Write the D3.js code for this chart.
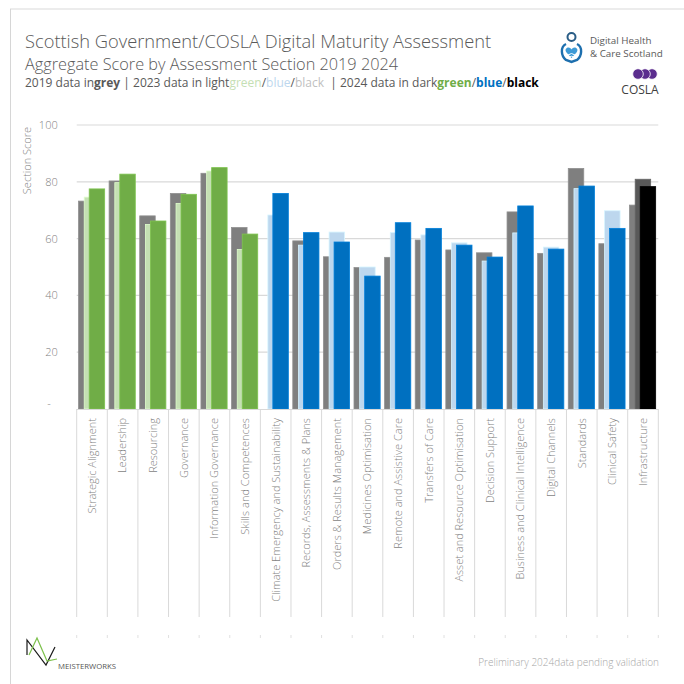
<!DOCTYPE html>
<html>
<head>
<meta charset="utf-8">
<script src="https://cdn.jsdelivr.net/npm/d3@7"></script>
<style>
  html, body { margin: 0; padding: 0; background: #ffffff; }
  svg { display: block; font-family: "Open Sans", "Noto Sans", sans-serif; }
</style>
</head>
<body>
<svg id="chart" width="684" height="684"></svg>
<script>
// Assessment sections, in the order they are reported
const categories = [
  "Strategic Alignment", "Leadership", "Resourcing", "Governance",
  "Information Governance", "Skills and Competences",
  "Climate Emergency and Sustainability", "Records, Assessments & Plans",
  "Orders & Results Management", "Medicines Optimisation",
  "Remote and Assistive Care", "Transfers of Care",
  "Asset and Resource Optimisation", "Decision Support",
  "Business and Clinical Intelligence", "Digital Channels", "Standards",
  "Clinical Safety", "Infrastructure"
];

// Which family each section belongs to (drives the colour scheme)
const sectionGroup = [
  "green", "green", "green", "green", "green", "green",
  "blue", "blue", "blue", "blue", "blue", "blue",
  "blue", "blue", "blue", "blue", "blue", "blue",
  "black"
];

// Aggregate section scores per assessment year (null = section not assessed)
const scores2019 = [73.2, 80.3, 68.0, 75.9, 83.0, 63.9, null, 59.2, 53.6, 49.8,
                    53.4, 59.5, 56.0, 55.0, 69.4, 54.8, 84.7, 58.2, 71.8];
const scores2023 = [74.6, 79.7, 65.0, 72.4, 83.8, 56.2, 68.3, 57.7, 62.3, 50.0,
                    62.1, 61.3, 58.5, 52.1, 62.0, 57.0, 77.6, 69.8, 80.9];
const scores2024 = [77.5, 82.7, 66.2, 75.6, 85.0, 61.6, 75.9, 62.1, 58.8, 46.8,
                    65.6, 63.6, 57.7, 53.5, 71.5, 56.3, 78.5, 63.6, 78.3];

const yTicks = [0, 20, 40, 60, 80, 100];

// ---- styling ----
const palette = {
  grey: "#7f7f7f",
  light: { green: "#c5e0b4", blue: "#bdd7ee", black: "#595959" },
  dark:  { green: "#70ad47", blue: "#0070c0", black: "#000000" }
};
const textGrey = "#7f7f7f";
const gridGrey = "#d9d9d9";

const svg = d3.select("#chart");

// page frame
svg.append("line").attr("x1", 10).attr("x2", 684).attr("y1", 9).attr("y2", 9)
  .attr("stroke", "#ececec").attr("stroke-width", 2);
svg.append("line").attr("x1", 10.5).attr("x2", 10.5).attr("y1", 9).attr("y2", 684)
  .attr("stroke", "#d6d6d6").attr("stroke-width", 1);

// ---- titles ----
svg.append("text").attr("x", 25).attr("y", 48)
  .attr("font-size", 18.3).attr("font-weight", 300).attr("fill", "#595959")
  .text("Scottish Government/COSLA Digital Maturity Assessment");
svg.append("text").attr("x", 25).attr("y", 70)
  .attr("font-size", 16.3).attr("font-weight", 300).attr("fill", "#595959")
  .text("Aggregate Score by Assessment Section 2019 2024");

const legendLine = svg.append("text").attr("x", 25).attr("y", 87)
  .attr("font-size", 12).attr("fill", "#595959");
[
  ["2019 data in", "#595959", 400],
  ["grey", "#595959", 700],
  [" | 2023 data in light", "#595959", 400],
  ["green", palette.light.green, 400],
  ["/", "#595959", 400],
  ["blue", palette.light.blue, 400],
  ["/", "#595959", 400],
  ["black", "#bfbfbf", 400],
  ["  | 2024 data in dark", "#595959", 400],
  ["green", palette.dark.green, 700],
  ["/", "#595959", 400],
  ["blue", palette.dark.blue, 700],
  ["/", "#595959", 400],
  ["black", palette.dark.black, 700]
].forEach(([t, c, w]) => {
  legendLine.append("tspan").attr("fill", c).attr("font-weight", w)
    .attr("xml:space", "preserve").text(t);
});

// ---- logos ----
const dhcs = svg.append("g");
dhcs.append("circle").attr("cx", 571.5).attr("cy", 37).attr("r", 4)
  .attr("fill", "none").attr("stroke", "#2a5d86").attr("stroke-width", 2);
dhcs.append("path")
  .attr("d", "M566,44 C560,47 561,56 566,60 L571.5,62 L577,60 C582,56 583,47 577,44")
  .attr("fill", "none").attr("stroke", "#1d6fae").attr("stroke-width", 2.4);
dhcs.append("path")
  .attr("d", "M571.5,58 L566.5,52.5 C564.5,50 566,47.5 568.5,47.5 C570,47.5 571,48.5 571.5,49.5 C572,48.5 573,47.5 574.5,47.5 C577,47.5 578.5,50 576.5,52.5 Z")
  .attr("fill", "#3d9ad6");
dhcs.append("path").attr("d", "M568,55 Q571.5,52 575,55 M569.5,57 Q571.5,55.5 573.5,57")
  .attr("fill", "none").attr("stroke", "#ffffff").attr("stroke-width", 1);
const dhcsName = dhcs.append("text").attr("font-size", 9.8).attr("fill", "#595959");
dhcsName.append("tspan").attr("x", 590).attr("y", 44).text("Digital Health");
dhcsName.append("tspan").attr("x", 590).attr("y", 57).text("& Care Scotland");

const cosla = svg.append("g");
[652, 645, 638].forEach(cx => {
  cosla.append("circle").attr("cx", cx).attr("cy", 74).attr("r", 5.3)
    .attr("fill", "#5b2d8e").attr("stroke", "#ffffff").attr("stroke-width", 0.8);
});
cosla.append("text").attr("x", 640).attr("y", 94).attr("text-anchor", "middle")
  .attr("font-size", 12).attr("fill", "#404040").text("COSLA");

// ---- scales ----
const plotLeft = 76.7, plotRight = 658.3, plotTop = 125, plotBottom = 409;
const x = d3.scaleBand().domain(categories).range([plotLeft, plotRight]).padding(0);
const y = d3.scaleLinear().domain([0, 100]).range([plotBottom, plotTop]);
const bw = x.bandwidth();

// gridlines
svg.append("g").selectAll("line").data(yTicks.filter(v => v > 0)).join("line")
  .attr("x1", plotLeft).attr("x2", plotRight)
  .attr("y1", d => y(d)).attr("y2", d => y(d))
  .attr("stroke", gridGrey).attr("stroke-width", 1.2);

// y axis labels
const yAxis = svg.append("g").attr("transform", `translate(${plotLeft - 16},0)`)
  .call(d3.axisLeft(y).tickValues(yTicks).tickSize(0)
    .tickFormat(d => d === 0 ? "-" : d3.format("d")(d)));
yAxis.select(".domain").remove();
yAxis.selectAll("text").attr("font-size", 11).attr("fill", textGrey)
  .attr("font-family", "Open Sans, sans-serif").attr("font-weight", 300)
  .attr("dx", d => d === 0 ? -7 : 0).attr("dy", d => d === 0 ? "-0.1em" : "0.32em");

svg.append("text")
  .attr("transform", `translate(31,${(y(100) + y(75)) / 2}) rotate(-90)`)
  .attr("text-anchor", "middle").attr("font-size", 11).attr("font-weight", 300)
  .attr("fill", textGrey)
  .text("Section Score");

// ---- bars: 2019 behind, 2023 in the middle, 2024 in front ----
const seriesDefs = [
  { values: scores2019, offset: 0.059, color: () => palette.grey },
  { values: scores2023, offset: 0.245, color: g => palette.light[g] },
  { values: scores2024, offset: 0.408, color: g => palette.dark[g] }
];
const barW = bw * 0.506;

seriesDefs.forEach(s => {
  const rows = categories.map((c, i) => ({ c, v: s.values[i], g: sectionGroup[i] }))
    .filter(d => d.v != null);
  svg.append("g").selectAll("rect").data(rows).join("rect")
    .attr("x", d => x(d.c) + bw * s.offset)
    .attr("y", d => y(d.v))
    .attr("width", barW)
    .attr("height", d => y(0) - y(d.v))
    .attr("fill", d => s.color(d.g))
    .attr("stroke", d => d3.color(s.color(d.g)).brighter(0.35))
    .attr("stroke-width", 0.8);
});

// ---- category axis ----
const bounds = categories.map(c => x(c)).concat([plotRight]);
svg.append("line").attr("x1", plotLeft).attr("x2", plotRight)
  .attr("y1", plotBottom + 0.5).attr("y2", plotBottom + 0.5)
  .attr("stroke", gridGrey).attr("stroke-width", 1);
svg.append("g").selectAll("line").data(bounds).join("line")
  .attr("x1", d => d).attr("x2", d => d)
  .attr("y1", plotBottom).attr("y2", 617)
  .attr("stroke", gridGrey).attr("stroke-width", 1);
svg.append("g").selectAll("line").data(bounds).join("line")
  .attr("x1", d => d).attr("x2", d => d)
  .attr("y1", 635).attr("y2", 638)
  .attr("stroke", "#e0e0e0").attr("stroke-width", 1);

svg.append("g").selectAll("text").data(categories).join("text")
  .attr("transform", d => `translate(${x(d) + bw / 2},418) rotate(-90)`)
  .attr("text-anchor", "end").attr("dy", "0.35em")
  .attr("font-size", 11).attr("font-weight", 300).attr("fill", textGrey)
  .text(d => d);

// ---- footer ----
const mw = svg.append("g");
mw.append("polyline").attr("points", "27,655 27,640 46,665 55,647")
  .attr("fill", "none").attr("stroke", "#1a1a1a").attr("stroke-width", 1.2);
mw.append("polyline").attr("points", "29,655 37,638 47,661 57,659")
  .attr("fill", "none").attr("stroke", "#7cc04b").attr("stroke-width", 1.2);
mw.append("text").attr("x", 58).attr("y", 669).attr("font-size", 8)
  .attr("textLength", 58).attr("lengthAdjust", "spacingAndGlyphs")
  .attr("fill", "#555555").text("MEISTERWORKS");

svg.append("text").attr("x", 659).attr("y", 666).attr("text-anchor", "end")
  .attr("font-size", 10).attr("font-weight", 300).attr("fill", "#a6a6a6")
  .text("Preliminary 2024data pending validation");
</script>
</body>
</html>
